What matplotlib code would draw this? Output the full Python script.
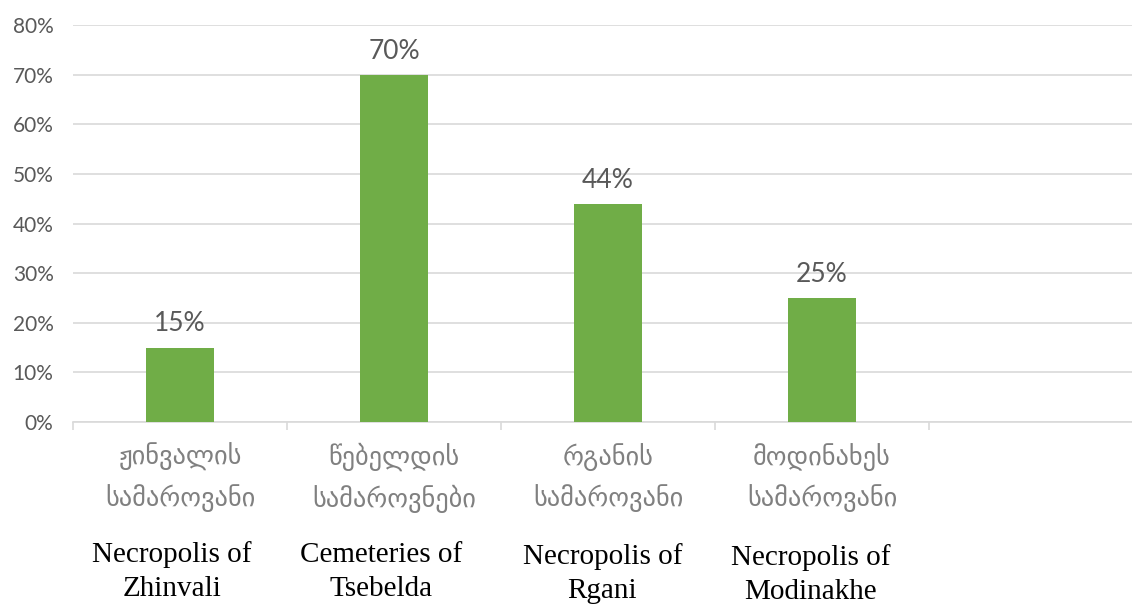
import matplotlib
matplotlib.use("Agg")
import matplotlib.pyplot as plt
from matplotlib.ticker import FixedLocator, PercentFormatter

categories_ka = ["ჟინვალის\nსამაროვანი", "წებელდის\nსამაროვნები", "რგანის\nსამაროვანი", "მოდინახეს\nსამაროვანი", ""]
categories_en = ["Necropolis of\nZhinvali", "Cemeteries of\nTsebelda", "Necropolis of\nRgani", "Necropolis of\nModinakhe"]
values = [0.15, 0.70, 0.44, 0.25]
yticks = [0, 0.1, 0.2, 0.3, 0.4, 0.5, 0.6, 0.7, 0.8]

fig = plt.figure(figsize=(11.32, 6.05), dpi=100)
ax = fig.add_axes([73/1132, 183/605, 1070/1132, 397/605])

x = list(range(len(values)))
ax.bar(x, values, width=0.315, color="#70ad47", zorder=3)

ax.set_xlim(-0.5, len(categories_ka) - 0.5)
ax.set_ylim(0, 0.8)
ax.set_yticks(yticks)
ax.yaxis.set_major_formatter(PercentFormatter(1.0, decimals=0))
ax.tick_params(axis="y", length=0, pad=14, labelsize=15, labelcolor="#595959")
for t in ax.get_yticklabels():
    t.set_fontfamily("Lato")

ax.grid(axis="y", color="#d9d9d9", linewidth=1.2, zorder=0)
for s in ["top", "right", "left"]:
    ax.spines[s].set_visible(False)
ax.spines["bottom"].set_color("#d9d9d9")
ax.spines["bottom"].set_linewidth(1.2)

# boundaries as major ticks, labels on minor ticks
ax.xaxis.set_major_locator(FixedLocator([i - 0.5 for i in range(len(categories_ka))]))
ax.xaxis.set_major_formatter(plt.NullFormatter())
ax.tick_params(axis="x", which="major", length=6, color="#d9d9d9", width=1.2)
ax.set_xticks(list(range(len(categories_ka))), minor=True)
ax.set_xticklabels(categories_ka, minor=True)
ax.tick_params(axis="x", which="minor", length=0, pad=15, labelsize=19, labelcolor="#808080")
for t in ax.get_xticklabels(minor=True):
    t.set_fontfamily("DejaVu Sans")
    t.set_linespacing(1.6)

# data labels
for xi, v in zip(x, values):
    ax.annotate(f"{v*100:.0f}%", (xi, v), xytext=(0, 8), textcoords="offset points",
                ha="center", va="bottom", fontsize=19, color="#595959", family="Lato")

# English labels
en_offsets = [(-6, -108), (-9, -108), (-4, -109), (-8, -110)]
for xi, lab, (dx, dy) in zip(x, categories_en, en_offsets):
    ax.annotate(lab, (xi, 0), xycoords=("data", "data"), xytext=(dx, dy),
                textcoords="offset points", ha="center", va="center",
                fontsize=21, family="Liberation Serif", color="black",
                linespacing=1.4, annotation_clip=False)

fig.savefig("out.png", dpi=100)
